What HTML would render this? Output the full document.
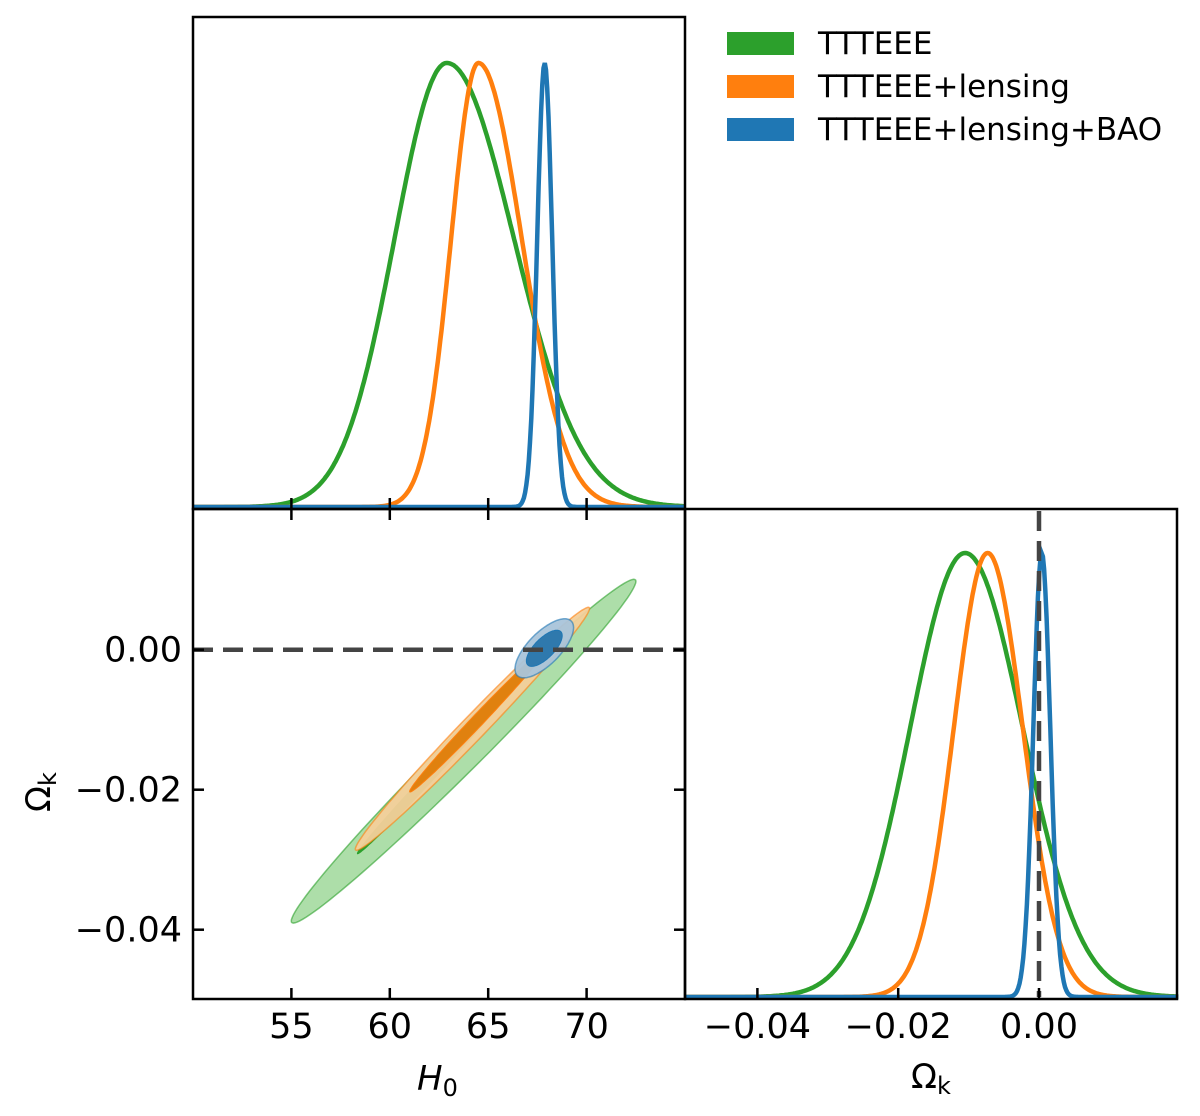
<!DOCTYPE html>
<html><head><meta charset="utf-8"><style>
html,body{margin:0;padding:0;background:#fff;}
body{position:relative;width:1200px;height:1116px;overflow:hidden}
svg{display:block;font-family:"DejaVu Sans","Liberation Sans",sans-serif;}
</style></head><body>
<svg id="c" width="1200" height="1116" xmlns="http://www.w3.org/2000/svg"></svg>
<script>
// ---- data ----
const seriesNames = ["TTTEEE", "TTTEEE+lensing", "TTTEEE+lensing+BAO"];
const seriesColors = ["#2ca02c", "#ff7f0e", "#1f77b4"];
// 1D H0 posteriors: mode, left sigma, right sigma
const h0Mode = [62.9, 64.5, 67.87];
const h0SigL = [2.65, 1.38, 0.38];
const h0SigR = [3.4, 2.2, 0.38];
// 1D Omega_k posteriors
const okMode = [-0.0105, -0.0073, 0.0004];
const okSigL = [0.0078, 0.0048, 0.0012];
const okSigR = [0.0082, 0.0050, 0.0012];
// 2D 95% contour parameters
const cH0 = [63.75, 64.2, 67.85];
const cOk = [-0.0145, -0.0113, 0.0002];
const sdH0 = [3.53, 2.4, 0.6];
const sdOk = [0.0099, 0.0070, 0.0017];
const rho = [0.988, 0.99, 0.7];
// 2D 68% contour parameters
const cH0in = [62.0, 64.5, 67.85];
const cOkin = [-0.0182, -0.0100, 0.0002];
const sdH0in = [2.4, 2.3, 0.6];
const sdOkin = [0.0072, 0.0068, 0.0017];
const rhoIn = [0.996, 0.993, 0.7];
const h0Ticks = [55, 60, 65, 70];
const okTicks = [-0.04, -0.02, 0.00];
const okTickLabels = ["\u22120.04", "\u22120.02", "0.00"];

// ---- axes ----
const L = 193, M = 685, R = 1177, T = 17, MID = 509, B = 999;
const xH = v => L + (v - 50) * (M - L) / 25;
const yOk = v => MID + (0.0201 - v) * 7000;
const xOk = v => 1039 + v * 7040;
const svg = document.getElementById('c');
const NS = "http://www.w3.org/2000/svg";
function mk(tag, attrs, parent) {
  const e = document.createElementNS(NS, tag);
  for (const k in attrs) e.setAttribute(k, attrs[k]);
  (parent || svg).appendChild(e);
  return e;
}
function gpdf(x, m, sl, sr) { const s = x < m ? sl : sr; return Math.exp(-0.5 * ((x - m) / s) ** 2); }

for (let i = 0; i < 3; i++) {
  let d = "";
  for (let p = 0; p <= 400; p++) {
    const v = 50 + 25 * p / 400;
    const y = 507 - 444 * gpdf(v, h0Mode[i], h0SigL[i], h0SigR[i]);
    d += (p ? "L" : "M") + xH(v).toFixed(1) + "," + y.toFixed(1);
  }
  const e = mk('path', { d, fill: "none", stroke: seriesColors[i], "stroke-width": 4.5 });
  
  
}
for (let i = 0; i < 3; i++) {
  let d = "";
  for (let p = 0; p <= 400; p++) {
    const v = -0.0502 + 0.07 * p / 400;
    const y = 997 - 444 * gpdf(v, okMode[i], okSigL[i], okSigR[i]);
    d += (p ? "L" : "M") + xOk(v).toFixed(1) + "," + y.toFixed(1);
  }
  const e = mk('path', { d, fill: "none", stroke: seriesColors[i], "stroke-width": 4.5 });
  
  
}
mk('line', { x1: 1039, x2: 1039, y1: 511, y2: 997, stroke: "#444", "stroke-width": 4.5, "stroke-dasharray": "20,10" });

function ellipse(cx, cy, a, b, c, r) {
  let d = "";
  for (let p = 0; p <= 120; p++) {
    const t = 2 * Math.PI * p / 120;
    const u = Math.cos(t), w = Math.sin(t);
    const h = cx + r * a * u;
    const o = cy + r * b * (c * u + Math.sqrt(1 - c * c) * w);
    d += (p ? "L" : "M") + xH(h).toFixed(1) + "," + yOk(o).toFixed(1);
  }
  return d + "Z";
}
const light = ["#a9dca4", "#f3cf9a", "#a9c4da"];
const dark = ["#2ca02c", "#e0810f", "#2f79ad"];
const cp = mk('clipPath', { id: "clipBL" }); mk('rect', { x: L, y: MID, width: M - L, height: B - MID }, cp);
const g2 = mk('g', { "clip-path": "url(#clipBL)" });
for (let i = 0; i < 3; i++) {
  const e1 = mk('path', { d: ellipse(cH0[i], cOk[i], sdH0[i], sdOk[i], rho[i], 2.48), fill: light[i], "fill-opacity": 0.95, stroke: seriesColors[i], "stroke-opacity": 0.6, "stroke-width": 1.5 }, g2);
  
  
  const e2 = mk('path', { d: ellipse(cH0in[i], cOkin[i], sdH0in[i], sdOkin[i], rhoIn[i], 1.52), fill: dark[i], stroke: seriesColors[i], "stroke-width": 1 }, g2);
  
  
}
mk('line', { x1: L, x2: M, y1: yOk(0), y2: yOk(0), stroke: "#444", "stroke-width": 4.5, "stroke-dasharray": "20,10" });

mk('rect', { x: L, y: T, width: M - L, height: MID - T, fill: "none", stroke: "#000", "stroke-width": 2.5 });
mk('rect', { x: L, y: MID, width: M - L, height: B - MID, fill: "none", stroke: "#000", "stroke-width": 2.5 });
mk('rect', { x: M, y: MID, width: R - M, height: B - MID, fill: "none", stroke: "#000", "stroke-width": 2.5 });

h0Ticks.forEach(v => {
  const x = xH(v);
  mk('line', { x1: x, x2: x, y1: B, y2: B - 11, stroke: "#000", "stroke-width": 2.5 });
  mk('line', { x1: x, x2: x, y1: MID, y2: MID + 11, stroke: "#000", "stroke-width": 2.5 });
  mk('line', { x1: x, x2: x, y1: MID, y2: MID - 11, stroke: "#000", "stroke-width": 2.5 });
  const t = mk('text', { x, y: 1038, "font-size": 35, "text-anchor": "middle" }); t.textContent = v;
  
  
});
okTicks.forEach((v, k) => {
  const y = yOk(v);
  mk('line', { x1: L, x2: L + 11, y1: y, y2: y, stroke: "#000", "stroke-width": 2.5 });
  mk('line', { x1: M, x2: M - 11, y1: y, y2: y, stroke: "#000", "stroke-width": 2.5 });
  const t = mk('text', { x: 182, y: y + 12, "font-size": 35, "text-anchor": "end" }); t.textContent = okTickLabels[k];
  
  
  const x = xOk(v);
  mk('line', { x1: x, x2: x, y1: B, y2: B - 11, stroke: "#000", "stroke-width": 2.5 });
  const t2 = mk('text', { x, y: 1038, "font-size": 35, "text-anchor": "middle" }); t2.textContent = okTickLabels[k];
  
  
});
</script>
<svg width="1200" height="1116" style="position:absolute;left:0;top:0" font-family="DejaVu Sans, Liberation Sans, sans-serif">
  <text x="417" y="1090" font-size="34" font-style="italic">H<tspan font-style="normal" font-size="24" dy="6">0</tspan></text>
  <text x="911" y="1088" font-size="34">Ω<tspan font-size="24" dy="6">k</tspan></text>
  <text transform="translate(50,812) rotate(-90)" font-size="34">Ω<tspan font-size="24" dy="6">k</tspan></text>
  <g font-size="31">
    <rect x="727" y="32" width="67" height="23" fill="#2ca02c"/>
    <text x="818" y="54">TTTEEE</text>
    <rect x="727" y="75" width="67" height="23" fill="#ff7f0e"/>
    <text x="818" y="97">TTTEEE+lensing</text>
    <rect x="727" y="118" width="67" height="23" fill="#1f77b4"/>
    <text x="818" y="140">TTTEEE+lensing+BAO</text>
  </g>
</svg>
</body></html>
